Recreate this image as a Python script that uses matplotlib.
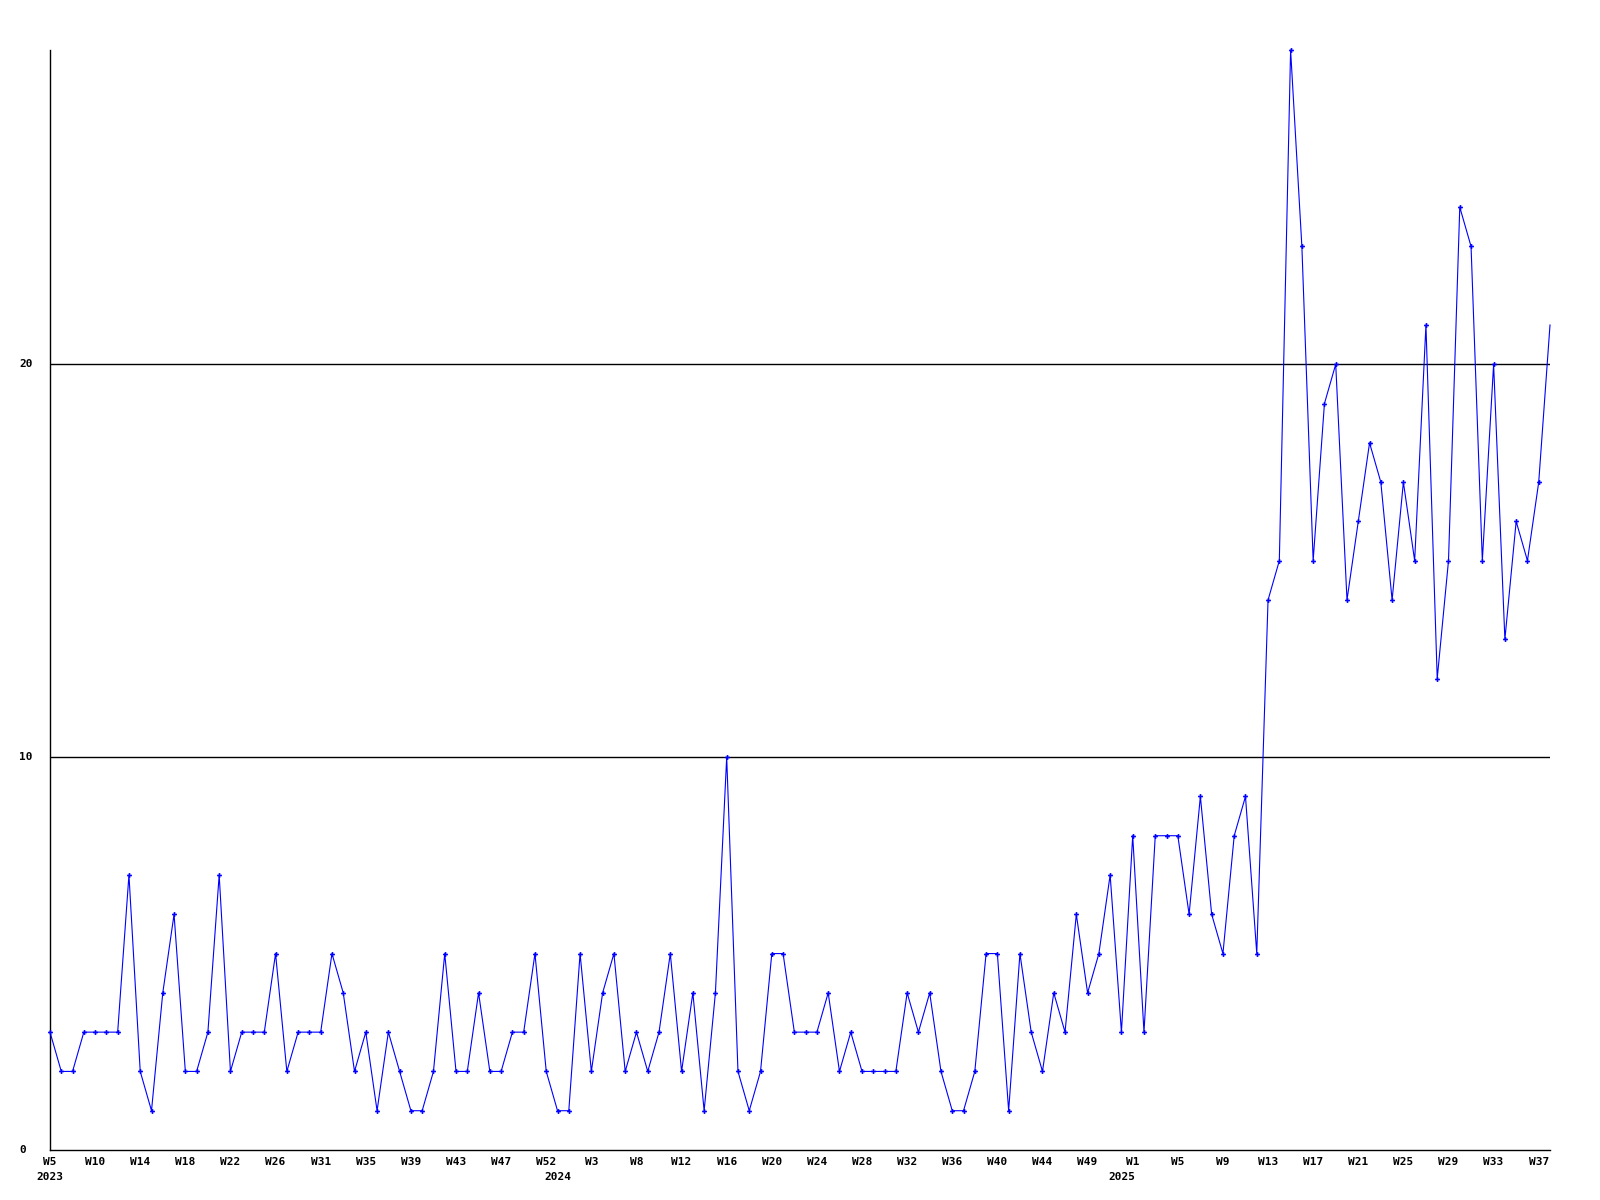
import numpy as np
import matplotlib
matplotlib.use("Agg")
import matplotlib.pyplot as plt
from matplotlib import transforms

# weekly values
values = [3, 2, 2, 3, 3, 3, 3, 7, 2, 1, 4, 6, 2, 2, 3, 7, 2, 3, 3, 3,
          5, 2, 3, 3, 3, 5, 4, 2, 3, 1, 3, 2, 1, 1, 2, 5, 2, 2, 4, 2,
          2, 3, 3, 5, 2, 1, 1, 5, 2, 4, 5, 2, 3, 2, 3, 5, 2, 4, 1, 4,
          10, 2, 1, 2, 5, 5, 3, 3, 3, 4, 2, 3, 2, 2, 2, 2, 4, 3, 4, 2,
          1, 1, 2, 5, 5, 1, 5, 3, 2, 4, 3, 6, 4, 5, 7, 3, 8, 3, 8, 8,
          8, 6, 9, 6, 5, 8, 9, 5, 14, 15, 28, 23, 15, 19, 20, 14, 16, 18, 17, 14,
          17, 15, 21, 12, 15, 24, 23, 15, 20, 13, 16, 15, 17, 21]

week_labels = ["W5", "W10", "W14", "W18", "W22", "W26", "W31", "W35", "W39", "W43",
               "W47", "W52", "W3", "W8", "W12", "W16", "W20", "W24", "W28", "W32",
               "W36", "W40", "W44", "W49", "W1", "W5", "W9", "W13", "W17", "W21",
               "W25", "W29", "W33", "W37"]
label_step = 4

years = ["2023", "2024", "2025"]
year_index = [0, 45, 95]

y_ticks = [0, 10, 20]
y_max = 28

font = dict(family="DejaVu Sans Mono", fontweight="bold", fontsize=8)

fig = plt.figure(figsize=(16, 12), dpi=100)
ax = fig.add_axes([50 / 1600, 50 / 1200, 1500 / 1600, 1100 / 1200])

x = np.arange(len(values))
ax.plot(x, values, color="#0000ff", lw=0.8, marker="P", ms=3.5, mew=0,
        markevery=list(range(len(values) - 1)), clip_on=False, zorder=3)

ax.set_xlim(0, len(values) - 1)
ax.set_ylim(0, y_max)

for s in ["top", "right"]:
    ax.spines[s].set_visible(False)
for s in ["left", "bottom"]:
    ax.spines[s].set_linewidth(1.0)
    ax.spines[s].set_color("black")

# horizontal grid lines
for v in y_ticks[1:]:
    ax.axhline(v, color="black", lw=1.0, zorder=1)

ax.set_yticks([])
ax.set_xticks([])

# y labels, left aligned near the figure edge
ytrans = transforms.blended_transform_factory(fig.transFigure, ax.transData)
for v in y_ticks:
    ax.text(19 / 1600, v, str(v), transform=ytrans, ha="left", va="center", **font)

# week labels below the axis
xtrans = transforms.blended_transform_factory(ax.transData, fig.transFigure)
for k, lab in enumerate(week_labels):
    ax.text(k * label_step, 1 - 1162 / 1200, lab, transform=xtrans,
            ha="center", va="center", **font)

for yi, yr in zip(year_index, years):
    ax.text(yi, 1 - 1177 / 1200, yr, transform=xtrans,
            ha="center", va="center", **font)

fig.savefig("out.png", dpi=100, facecolor="white")
